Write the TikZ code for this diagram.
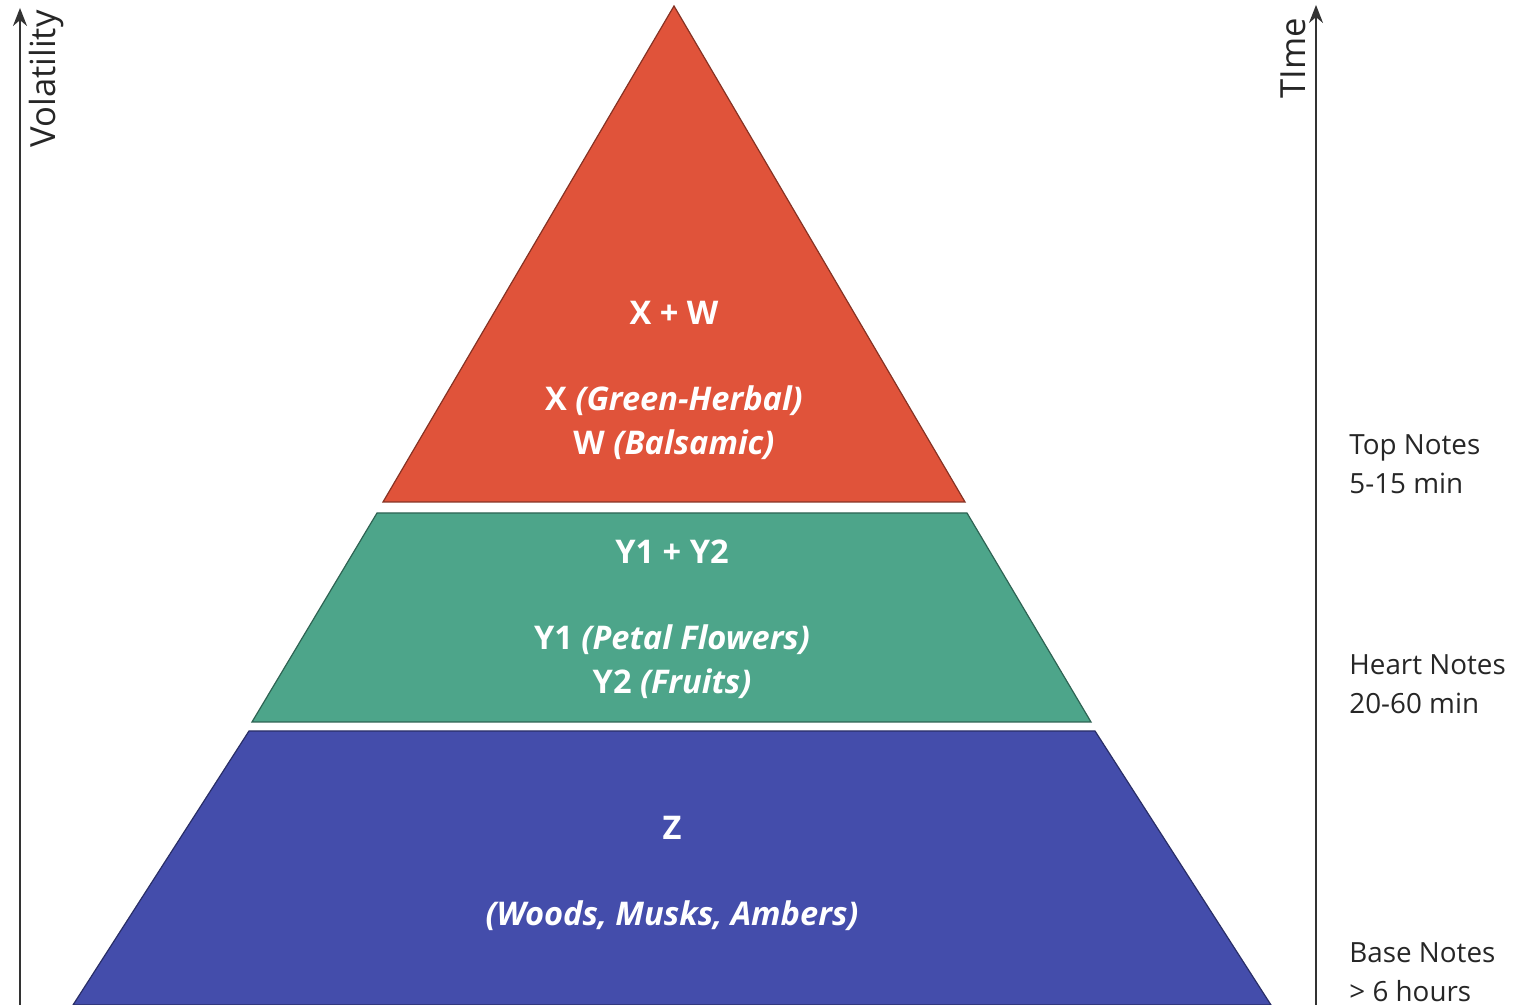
\documentclass[tikz,border=0pt]{standalone}
\usepackage{fontspec}
\setmainfont{Open Sans}
\usetikzlibrary{arrows.meta}
\definecolor{topred}{HTML}{E0533A}
\definecolor{heartgreen}{HTML}{4DA58A}
\definecolor{baseblue}{HTML}{444DAB}
\definecolor{axisgray}{HTML}{333333}

\begin{document}
\begin{tikzpicture}[x=0.5pt, y=0.5pt,
    layer/.style={draw=#1!60!black, line width=0.6pt, fill=#1},
    intext/.style={text=white, align=center, inner sep=0pt,
        font=\fontsize{16.3}{22}\selectfont\bfseries},
    sidetext/.style={anchor=west, align=left, inner sep=0pt, text=black!85,
        font=\fontsize{13.9}{19.5}\selectfont},
    axis/.style={draw=axisgray, line width=1pt, -{Stealth[length=9pt, width=7pt]}},
    axistext/.style={rotate=90, anchor=east, inner sep=0pt, text=black!85,
        font=\fontsize{17.3}{20}\selectfont}]
    \useasboundingbox (0,0) rectangle (1530,1005);

    % pyramid layers
    \draw[layer=topred] (383,503) -- (674,999) -- (965,503) -- cycle;
    \draw[layer=heartgreen] (252,283) -- (377,492) -- (967,492) -- (1091,283) -- cycle;
    \draw[layer=baseblue] (73,0) -- (249,274) -- (1095,274) -- (1271,0) -- cycle;

    % layer texts
    \node[intext] (topsum)    at (674,692) {X + W};
    \node[intext] (topnotes)  at (674,582) {X \textit{(Green-Herbal)}\\W \textit{(Balsamic)}};
    \node[intext] (heartsum)  at (672,453) {Y1 + Y2};
    \node[intext] (heartnotes) at (672,343) {Y1 \textit{(Petal Flowers)}\\Y2 \textit{(Fruits)}};
    \node[intext] (basesum)   at (672,177) {Z};
    \node[intext] (basenotes) at (672,89) {\textit{(Woods, Musks, Ambers)}};

    % axes
    \coordinate (vlow)  at (20,0);
    \coordinate (vhigh) at (20,997);
    \coordinate (tlow)  at (1316,0);
    \coordinate (thigh) at (1316,1000);
    \draw[axis] (vlow) -- (vhigh);
    \draw[axis] (tlow) -- (thigh);
    \node[axistext] (vol)  at (47,995) {Volatility};
    \node[axistext] (time) at (1293,987) {TIme};

    % side labels
    \node[sidetext] (toplab)   at (1349,540.5) {Top Notes\\5-15 min};
    \node[sidetext] (heartlab) at (1349,320.5) {Heart Notes\\20-60 min};
    \node[sidetext] (baselab)  at (1349,32.5) {Base Notes\\> 6 hours};
\end{tikzpicture}
\end{document}
